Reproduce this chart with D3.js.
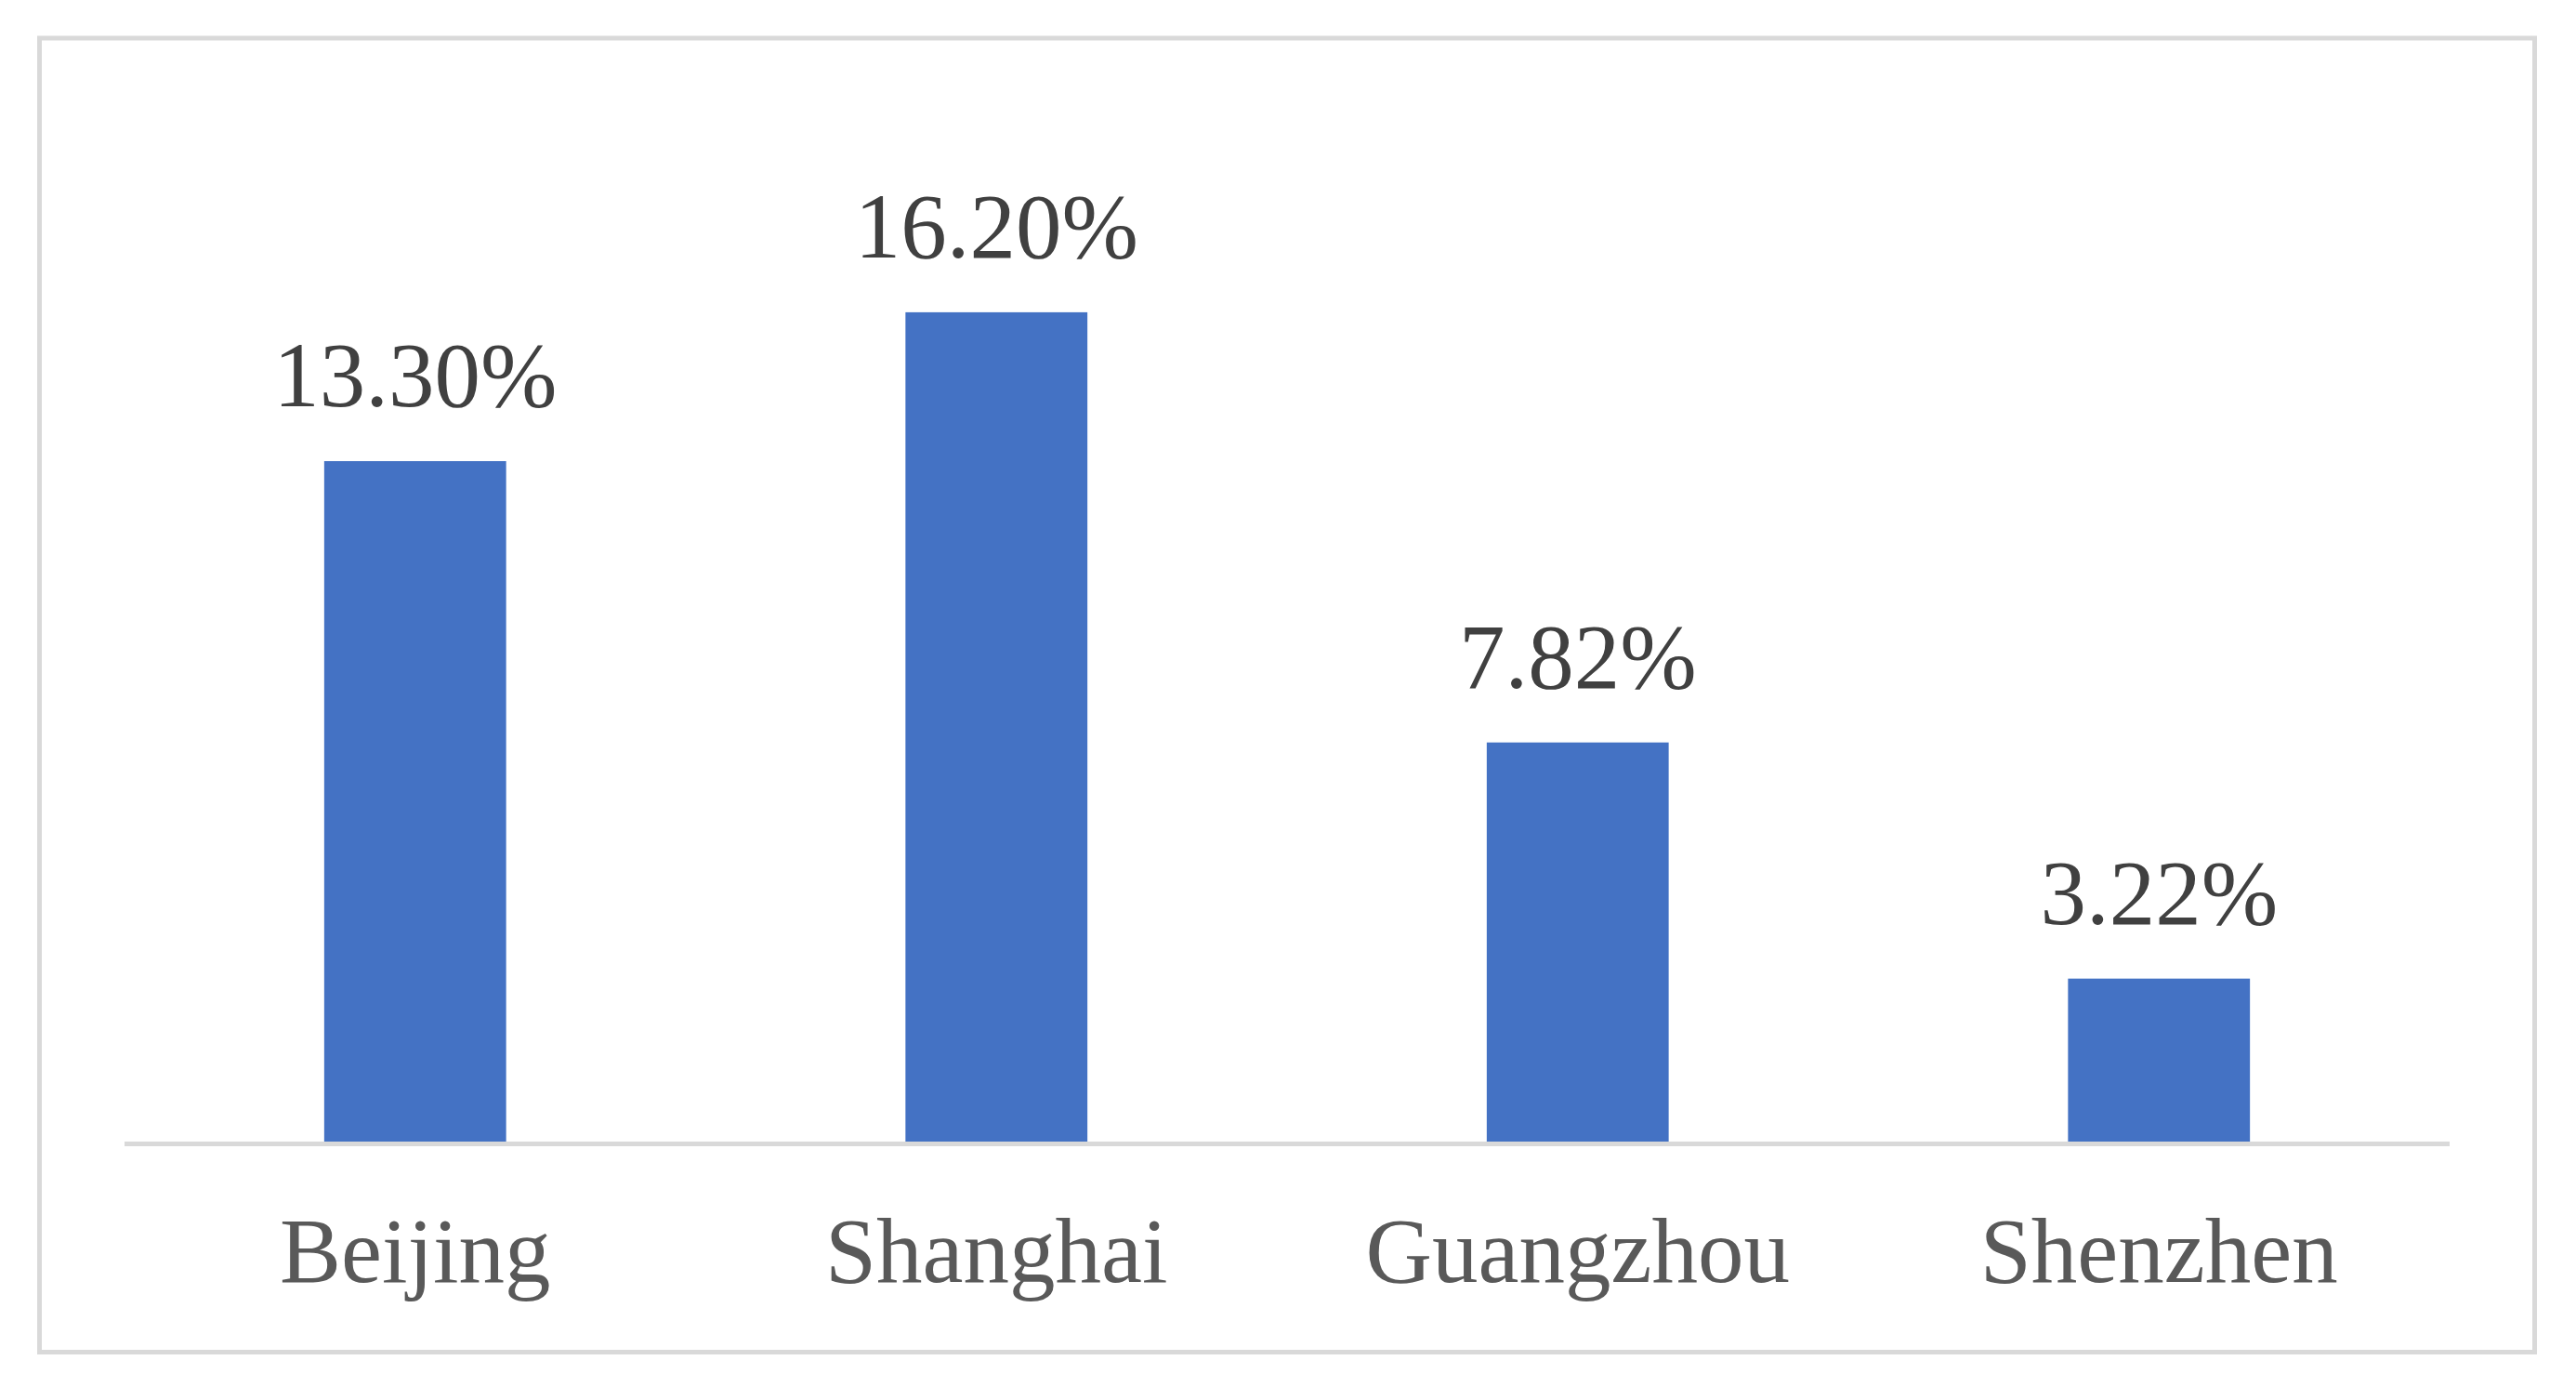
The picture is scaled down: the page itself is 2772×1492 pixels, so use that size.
<!DOCTYPE html>
<html>
<head>
<meta charset="utf-8">
<script src="https://cdn.jsdelivr.net/npm/d3@7"></script>
<style>
  body { margin: 0; background: #fff; }
  svg { display: block; }
</style>
</head>
<body>
<div id="chart"></div>
<script>
let cities = ['Beijing', 'Shanghai', 'Guangzhou', 'Shenzhen'];
let shares = [13.30, 16.20, 7.82, 3.22];
let shareLabels = ['13.30%', '16.20%', '7.82%', '3.22%'];

let width = 2772;
let height = 1492;
let plot = { left: 134, right: 2636, base: 1230.5, top: 236.5 };

let svg = d3.select('#chart').append('svg')
            .attr('width', width)
            .attr('height', height);

// Chart frame
svg.append('rect')
   .attr('x', 42.5)
   .attr('y', 41)
   .attr('width', 2727.5 - 42.5)
   .attr('height', 1454.5 - 41)
   .attr('fill', '#fff')
   .attr('stroke', '#d9d9d9')
   .attr('stroke-width', 5);

let xScale = d3.scaleBand()
               .domain(cities)
               .range([plot.left, plot.right])
               .paddingInner(0.687)
               .paddingOuter(0.3435);

let yScale = d3.scaleLinear()
               .domain([0, 18])
               .range([plot.base, plot.top]);

// Bars
svg.selectAll('rect.bar')
   .data(cities)
   .enter()
   .append('rect')
   .attr('class', 'bar')
   .attr('x', d => xScale(d))
   .attr('width', xScale.bandwidth())
   .attr('y', (d, i) => yScale(shares[i]))
   .attr('height', (d, i) => yScale(0) - yScale(shares[i]))
   .attr('fill', '#4472c4');

// Value labels
svg.selectAll('text.value')
   .data(cities)
   .enter()
   .append('text')
   .attr('class', 'value')
   .attr('x', d => xScale(d) + xScale.bandwidth() / 2)
   .attr('y', (d, i) => yScale(shares[i]) - 59)
   .attr('text-anchor', 'middle')
   .style('font-family', '"Liberation Serif", "Times New Roman", serif')
   .style('font-size', '99px')
   .style('fill', '#404040')
   .text((d, i) => shareLabels[i]);

// Category axis
let xAxis = svg.append('g')
               .attr('class', 'xaxis')
               .attr('transform', `translate(0, ${plot.base})`)
               .call(d3.axisBottom(xScale).tickSize(0).tickPadding(148));

xAxis.select('.domain')
     .attr('d', `M${plot.left},0H${plot.right}`)
     .attr('stroke', '#d9d9d9')
     .attr('stroke-width', 5);

xAxis.selectAll('text')
     .attr('dy', 0)
     .style('font-family', '"Liberation Serif", "Times New Roman", serif')
     .style('font-size', '99px')
     .style('fill', '#595959');
</script>
</body>
</html>
